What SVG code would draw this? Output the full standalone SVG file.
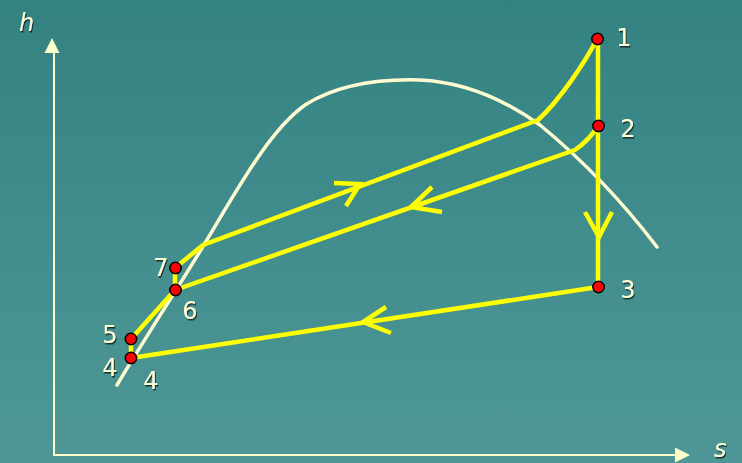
<svg xmlns="http://www.w3.org/2000/svg" width="742" height="463" viewBox="0 0 742 463">
<defs>
<linearGradient id="bg" x1="0" y1="0" x2="0" y2="1">
<stop offset="0" stop-color="#338282"/>
<stop offset="1" stop-color="#4f9797"/>
</linearGradient>
<filter id="sh" x="-20%" y="-20%" width="140%" height="140%">
<feDropShadow dx="1" dy="1.5" stdDeviation="0.4" flood-color="#0d2424" flood-opacity="0.9"/>
</filter>
</defs>
<style>
.axis{stroke:#ffffcc;stroke-width:2;fill:none}
.ah{fill:#ffffcc}
.sat{stroke:#fffbd0;stroke-width:3.5;fill:none;stroke-linecap:round}
.cyc{stroke:#ffff00;stroke-width:4.5;fill:none;stroke-linejoin:round}
.arr{stroke:#ffff00;stroke-width:4.5;fill:none;stroke-linecap:butt;stroke-linejoin:miter}
.pt{fill:#ff0000;stroke:#000;stroke-width:1.5}
.lbl{font-family:"DejaVu Sans",Verdana,sans-serif;font-size:24px;fill:#ffffd8;filter:url(#sh);text-anchor:middle}
.ax{font-style:italic;text-anchor:start}
</style>
<rect width="742" height="463" fill="url(#bg)"/>
<g id="axes">
<path class="axis" d="M54,53 L54,455 L676,455"/>
<polygon class="ah" points="52,38 44.5,53 59.5,53"/>
<polygon class="ah" points="690,455 675,447.5 675,462.5"/>
</g>
<g id="saturation-curve">
<path class="sat" d="M117,385 C150,330 180,285 205,243 C240,185 270,130 305,105 C340,83 385,79 420,80 C465,82 505,100 540,125 C585,162 625,205 657,247"/>
</g>
<g id="connectors">
<path class="cyc" d="M598,39 L598,287"/>
<path class="cyc" d="M598,287 L131,358 L131,339 L175,290 L175,268 L203,245 L538,120 C560,100 585,62 597,39"/>
<path class="cyc" d="M175,290 L575,150 C585,143 593,134 598,126"/>
<path class="arr" d="M585,212 L599,237 L612,212"/>
<path class="arr" d="M386,307 L363,322 L391,333"/>
<path class="arr" d="M334,183 L360,184 L346,206"/>
<path class="arr" d="M432,187 L411,207 L442,212"/>
</g>
<g id="p1"><circle class="pt" cx="597.5" cy="39" r="5.7"/><text class="lbl" x="624" y="46">1</text></g>
<g id="p2"><circle class="pt" cx="598.5" cy="126" r="5.7"/><text class="lbl" x="628" y="137">2</text></g>
<g id="p3"><circle class="pt" cx="598.5" cy="287" r="5.7"/><text class="lbl" x="628" y="298">3</text></g>
<g id="p4"><circle class="pt" cx="131" cy="358" r="5.7"/><text class="lbl" x="110" y="376">4</text><text class="lbl" x="151" y="389">4</text></g>
<g id="p5"><circle class="pt" cx="131" cy="339" r="5.7"/><text class="lbl" x="110" y="343">5</text></g>
<g id="p6"><circle class="pt" cx="175.5" cy="290" r="5.7"/><text class="lbl" x="190" y="319">6</text></g>
<g id="p7"><circle class="pt" cx="175.5" cy="268" r="5.7"/><text class="lbl" x="161" y="276">7</text></g>
<g id="labels">
<text class="lbl ax" x="19" y="31">h</text>
<text class="lbl ax" x="714" y="457">s</text>
</g>
</svg>
